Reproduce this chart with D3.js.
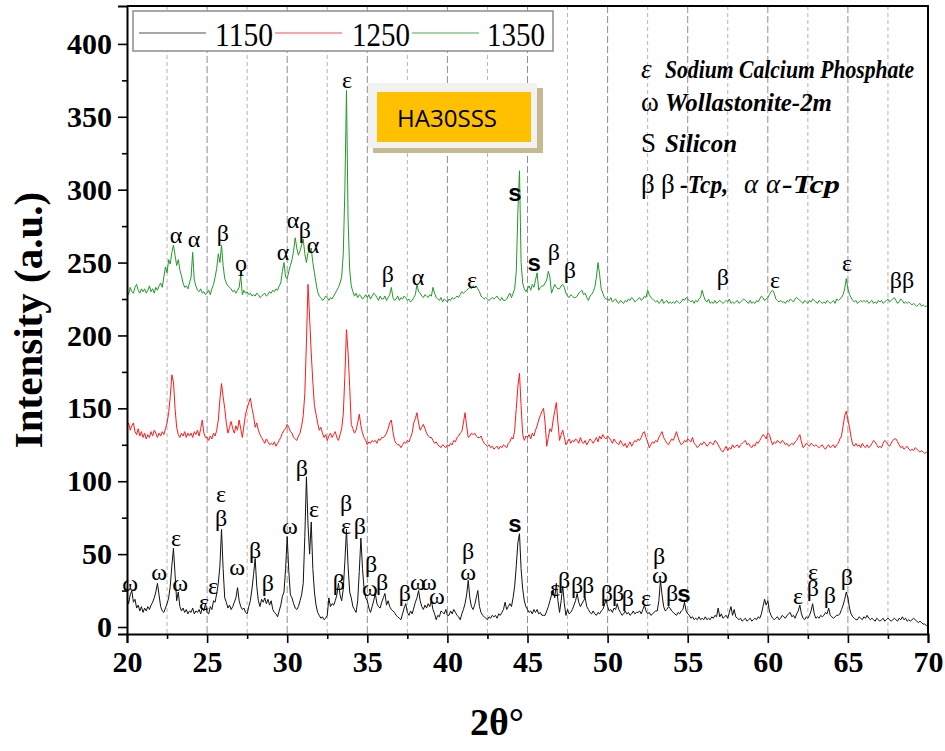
<!DOCTYPE html>
<html>
<head>
<meta charset="utf-8">
<script src="https://cdn.jsdelivr.net/npm/d3@7"></script>
<style>
  body { margin: 0; background: #fff; }
  svg { display: block; }
</style>
</head>
<body>
<svg id="chart" width="945" height="751"></svg>
<script>
// 2θ scan, 20°–70° at 0.1° step
const twoTheta = d3.range(501).map(i => +(20 + i * 0.1).toFixed(1));

// intensities, one row per degree
const i1150 = [
  20,16,22,25,17,19,13,15,11,14,
  10,13,11,14,12,15,17,20,24,30,
  22,14,11,10,13,16,20,28,42,54,
  36,18,24,14,11,13,10,12,9,11,
  10,13,9,11,10,12,9,13,11,16,
  10,9,14,12,18,17,23,30,42,67,
  40,20,17,13,15,12,14,17,20,27,
  18,14,12,13,10,9,14,18,26,36,
  47,28,18,14,19,17,20,16,19,15,
  18,12,10,9,7,11,15,21,24,40,
  62,38,22,20,16,13,12,14,18,22,
  30,62,103,70,50,72,40,24,15,10,
  8,6,7,5,6,8,20,14,16,15,
  18,22,30,22,18,26,45,67,42,24,
  20,14,12,10,18,38,61,40,26,20,
  18,13,10,14,18,23,16,14,13,17,
  20,23,15,18,14,12,11,10,8,7,
  6,5,9,13,16,10,8,11,9,13,
  17,20,25,18,14,12,15,13,16,14,
  18,12,9,5,8,7,11,10,9,12,
  8,8,11,9,12,10,8,7,5,9,
  12,16,22,32,20,14,12,15,20,25,
  14,10,8,7,6,5,7,6,8,7,
  8,6,9,8,10,12,17,12,14,16,
  14,20,28,42,58,64,40,26,18,14,
  12,10,11,9,12,10,12,9,10,8,
  8,8,11,14,18,22,25,20,30,18,
  10,18,28,16,8,12,9,10,12,15,
  18,23,17,14,16,18,20,14,12,10,
  9,11,9,8,10,9,11,12,15,19,
  14,11,12,10,13,12,16,12,10,8,
  9,11,9,10,8,9,11,9,10,10,
  11,9,12,15,11,9,10,8,9,10,
  11,11,18,32,22,14,11,12,14,13,
  11,10,9,8,10,9,11,12,17,11,
  9,8,6,7,5,6,5,7,5,6,
  5,7,5,6,5,7,6,8,7,13,
  7,9,6,7,8,6,10,14,8,12,
  7,6,5,6,4,5,6,4,5,6,
  4,5,6,5,7,6,9,14,19,15,
  18,11,8,6,5,6,7,5,6,8,
  7,6,8,9,10,7,8,6,9,11,
  15,9,6,5,7,6,8,11,16,9,
  6,7,6,8,7,8,10,9,13,8,
  7,6,7,8,8,9,12,15,19,24,
  20,13,9,7,6,5,5,7,6,5,
  7,6,8,6,5,6,5,4,6,5,
  4,5,6,4,5,6,5,4,5,6,
  5,4,6,5,7,5,6,4,5,4,
  5,6,5,4,3,4,3,2,2,1,
  1
];

const i1250 = [
  137,140,135,138,140,134,132,136,131,134,
  130,133,129,132,130,134,131,135,133,130,
  133,131,134,132,136,140,147,158,173,168,
  150,137,132,130,133,131,134,130,133,131,
  133,130,134,132,135,131,136,142,133,130,
  130,128,131,129,133,131,135,142,156,167,
  158,150,140,133,137,141,136,133,138,135,
  142,136,130,138,146,150,154,157,150,145,
  137,140,135,132,130,128,126,129,127,125,
  126,125,127,124,126,128,130,133,135,136,
  139,137,134,133,130,129,128,131,133,138,
  145,160,195,235,212,188,168,152,146,140,
  135,137,133,130,132,128,131,133,130,132,
  134,130,128,132,136,146,172,204,188,165,
  139,136,133,135,140,146,138,133,130,128,
  125,127,126,128,127,128,126,129,128,130,
  130,131,133,136,140,142,134,128,126,125,
  125,123,125,127,126,128,127,130,133,140,
  143,147,140,135,137,139,136,133,131,130,
  130,128,126,127,125,124,123,125,124,123,
  125,124,126,125,128,127,130,131,133,134,
  140,147,138,130,131,133,132,133,131,130,
  130,131,128,126,125,124,125,123,124,122,
  123,124,122,124,123,125,124,123,126,127,
  130,129,135,150,165,174,152,132,128,131,
  130,132,129,133,131,135,138,142,145,148,
  150,140,124,130,136,134,142,148,154,140,
  128,132,135,130,125,127,129,126,128,127,
  129,128,126,130,127,126,128,125,127,129,
  128,126,128,130,127,131,129,132,130,129,
  131,130,128,126,129,127,126,125,128,126,
  124,126,123,125,127,124,126,128,127,129,
  128,130,133,134,130,127,123,125,127,126,
  128,127,130,132,134,130,128,126,125,127,
  129,128,131,134,130,127,125,126,128,127,
  129,128,127,130,126,125,123,124,126,125,
  127,126,124,125,127,126,125,128,127,125,
  123,121,120,122,124,121,123,122,125,123,
  124,125,123,125,126,127,128,125,126,124,
  123,125,124,127,126,128,130,132,131,129,
  133,132,128,125,127,126,128,127,126,128,
  127,125,126,124,125,126,125,127,128,130,
  132,127,123,124,126,125,124,126,125,124,
  125,124,123,124,125,123,122,124,125,123,
  124,125,123,125,126,129,131,138,145,148,
  142,137,130,125,124,126,124,125,123,126,
  124,123,125,123,124,126,128,127,125,123,
  124,123,126,128,127,125,124,126,128,129,
  129,127,125,123,124,122,123,124,122,121,
  122,121,123,122,121,120,121,120,119,120,
  120
];

const i1350 = [
  231,228,233,230,229,233,235,231,229,232,
  230,232,229,231,234,230,232,229,233,231,
  234,236,233,240,247,243,252,249,257,262,
  255,248,252,245,241,236,233,234,232,236,
  240,257,238,234,231,230,232,229,230,228,
  229,231,228,232,235,240,246,256,250,262,
  248,239,236,234,233,232,230,231,229,231,
  233,241,228,231,229,230,228,229,227,228,
  227,229,228,226,227,228,229,227,228,230,
  229,231,230,232,231,234,236,244,250,240,
  239,244,248,252,258,267,260,255,258,262,
  266,256,250,257,258,260,250,243,236,230,
  227,226,224,225,227,226,224,226,225,227,
  229,231,233,236,240,256,300,368,280,245,
  234,230,227,229,226,228,227,225,226,228,
  226,228,225,227,229,228,226,224,227,225,
  225,227,224,226,228,233,226,224,225,227,
  224,226,225,227,226,224,225,223,224,226,
  228,235,230,229,227,226,228,227,226,228,
  227,233,229,226,225,224,226,223,225,224,
  223,225,224,226,225,226,227,226,228,230,
  229,230,231,232,233,232,234,233,234,232,
  230,227,226,225,226,225,224,225,226,225,
  226,227,225,224,226,224,224,225,227,229,
  226,229,232,244,285,313,250,236,232,230,
  232,234,231,235,233,238,243,231,233,234,
  234,236,238,244,240,229,232,235,233,232,
  232,234,235,233,229,227,226,228,227,226,
  226,227,229,230,231,228,229,226,224,227,
  228,230,233,240,250,242,232,229,226,225,
  225,224,226,223,224,225,223,222,224,223,
  222,224,223,225,224,226,225,223,224,225,
  226,224,225,227,226,231,228,226,225,224,
  223,224,222,223,225,222,223,224,222,223,
  222,223,222,224,223,222,223,225,224,226,
  225,224,223,224,222,224,223,225,226,231,
  227,224,223,225,222,223,222,224,222,223,
  224,223,222,223,224,223,225,222,223,222,
  223,224,222,223,224,225,224,223,222,224,
  222,223,222,224,223,225,227,226,224,225,
  226,228,230,231,229,225,224,223,224,223,
  223,222,224,223,225,224,223,225,226,225,
  224,223,222,224,223,222,224,223,225,224,
  223,222,224,223,222,223,222,224,223,222,
  223,224,222,225,224,225,226,228,232,239,
  232,228,226,224,223,224,222,223,224,223,
  224,223,224,222,223,224,222,223,222,224,
  223,224,222,223,224,225,223,224,225,226,
  224,222,223,225,224,222,223,222,223,222,
  221,222,221,220,221,222,220,221,220,220,
  220
];

const seriesNames = ['1150', '1250', '1350'];
const seriesColors = ['#111111', '#ff1a1a', '#22992a'];
const legendColors = ['#8a8a8a', '#f48a8a', '#86c986'];

// phase markers: [2θ, intensity, glyph]
const peaks1150 = [
  [20.19, 30, 'ω'], [22.0, 38, 'ω'], [23.06, 61, 'ε'], [23.31, 30, 'ω'],
  [24.81, 17, 'ε'], [25.37, 28, 'ε'], [25.87, 91, 'ε'], [25.87, 75, 'β'],
  [26.87, 41, 'ω'], [27.99, 53, 'β'], [28.8, 30, 'β'], [30.17, 69, 'ω'],
  [30.92, 109, 'β'], [31.67, 81, 'ε'], [33.23, 31, 'β'], [33.67, 85, 'β'],
  [33.67, 69, 'ε'], [34.54, 69, 'β'], [35.23, 43, 'β'], [35.17, 27, 'ω'],
  [35.92, 31, 'β'], [37.35, 23, 'β'], [38.16, 31, 'ω'], [38.85, 31, 'ω'],
  [39.35, 21, 'ω'], [41.29, 52, 'β'], [41.29, 38, 'ω'], [46.72, 27, 'ε'],
  [47.28, 32, 'β'], [48.09, 29, 'β'], [48.78, 29, 'β'], [49.96, 23, 'β'],
  [50.65, 23, 'β'], [51.27, 20, 'β'], [52.4, 20, 'ε'], [53.21, 49, 'β'],
  [53.27, 36, 'ω'], [54.02, 23, 'β'], [61.89, 21, 'ε'], [62.82, 38, 'ε'],
  [62.82, 27, 'β'], [63.88, 22, 'β'], [64.94, 34, 'β']
];
const silicon1150 = [[44.22, 71], [54.77, 23]];

const peaks1350 = [
  [23.06, 269, 'α'], [24.18, 266, 'α'], [25.99, 270, 'β'], [27.12, 250, 'ϙ'],
  [29.74, 257, 'α'], [30.36, 279, 'α'], [31.11, 272, 'β'], [31.61, 262, 'α'],
  [33.73, 375, 'ε'], [36.29, 242, 'β'], [38.16, 240, 'α'], [41.54, 238, 'ε'],
  [46.65, 257, 'β'], [47.65, 245, 'β'], [57.2, 240, 'β'], [60.45, 238, 'ε'],
  [64.94, 250, 'ε'], [68.38, 238, 'ββ']
];
const silicon1350 = [[44.22, 298], [45.41, 250]];

const yTicks = [0, 50, 100, 150, 200, 250, 300, 350, 400];
const yMinor = [25, 75, 125, 175, 225, 275, 325, 375];
const xTicks = [20, 25, 30, 35, 40, 45, 50, 55, 60, 65, 70];
const xMinor = [22.5, 27.5, 32.5, 37.5, 42.5, 47.5, 52.5, 57.5, 62.5, 67.5];

const svg = d3.select('#chart');
const plotL = 127, plotR = 928, plotT = 6, plotB = 634;

const x = d3.scaleLinear().domain([20, 70]).range([plotL, plotR]);
const y = d3.scaleLinear().domain([-4.8, 426]).range([plotB, plotT]);

const serif = '"Liberation Serif", "Times New Roman", serif';

// dashed verticals
svg.append('g')
  .selectAll('line')
  .data(xMinor.concat(xTicks.slice(1, -1)))
  .join('line')
  .attr('x1', d => x(d)).attr('x2', d => x(d))
  .attr('y1', plotT).attr('y2', plotB)
  .attr('stroke', d => d % 5 === 0 ? '#8f8f8f' : '#b4b4b4')
  .attr('stroke-width', 1)
  .attr('stroke-dasharray', d => d % 5 === 0 ? '7,3' : '4,3');

// diffraction patterns
const line = d3.line()
  .x((d, i) => x(twoTheta[i]))
  .y(d => y(d));

[i1150, i1250, i1350].forEach((vals, k) => {
  svg.append('path')
    .datum(vals)
    .attr('fill', 'none')
    .attr('stroke', seriesColors[k])
    .attr('stroke-width', 1)
    .attr('stroke-linejoin', 'round')
    .attr('d', line);
});

// axes
const yAxis = svg.append('g')
  .attr('transform', `translate(${plotL},0)`)
  .call(d3.axisLeft(y).tickValues(yTicks).tickSize(9).tickPadding(6));
svg.append('g')
  .attr('transform', `translate(${plotL},0)`)
  .call(d3.axisLeft(y).tickValues(yMinor).tickSize(5).tickFormat(''))
  .call(g => g.select('.domain').remove());

const xAxis = svg.append('g')
  .attr('transform', `translate(0,${plotB})`)
  .call(d3.axisBottom(x).tickValues(xTicks).tickSize(9).tickPadding(8));
svg.append('g')
  .attr('transform', `translate(0,${plotB})`)
  .call(d3.axisBottom(x).tickValues(xMinor).tickSize(5).tickFormat(''))
  .call(g => g.select('.domain').remove());

svg.selectAll('.domain').attr('stroke', '#000').attr('stroke-width', 2);
svg.selectAll('.tick line').attr('stroke', '#000').attr('stroke-width', 1.6);

yAxis.selectAll('.tick text')
  .attr('font-family', serif).attr('font-weight', 'bold')
  .attr('font-size', 30).attr('fill', '#000');
xAxis.selectAll('.tick text')
  .attr('font-family', serif).attr('font-weight', 'bold')
  .attr('font-size', 30).attr('fill', '#000');

// top and right frame
svg.append('path')
  .attr('d', `M${plotL},${plotT}H${plotR}V${plotB}`)
  .attr('fill', 'none').attr('stroke', '#000').attr('stroke-width', 2);

// axis titles
svg.append('text')
  .attr('transform', `translate(42,${(plotT + plotB) / 2}) rotate(-90)`)
  .attr('text-anchor', 'middle')
  .attr('font-family', serif).attr('font-weight', 'bold')
  .attr('font-size', 41)
  .text('Intensity (a.u.)');

svg.append('text')
  .attr('x', 497).attr('y', 735)
  .attr('text-anchor', 'middle')
  .attr('font-family', serif).attr('font-weight', 'bold')
  .attr('font-size', 38)
  .text('2θ°');

// legend
const legend = svg.append('g');
legend.append('rect')
  .attr('x', 133).attr('y', 11).attr('width', 420).attr('height', 40)
  .attr('fill', '#fff').attr('stroke', '#8c8c8c').attr('stroke-width', 1.5);
const legendX = [139, 275, 412];
const textX = [215, 352, 487];
seriesNames.forEach((name, k) => {
  legend.append('line')
    .attr('x1', legendX[k]).attr('x2', legendX[k] + 67)
    .attr('y1', 33).attr('y2', 33)
    .attr('stroke', legendColors[k]).attr('stroke-width', 1.5);
  legend.append('text')
    .attr('x', textX[k]).attr('y', 46)
    .attr('font-family', serif).attr('font-size', 34)
    .attr('textLength', 58).attr('lengthAdjust', 'spacingAndGlyphs')
    .text(name);
});

// phase markers
function markers(list) {
  svg.append('g')
    .selectAll('text')
    .data(list)
    .join('text')
    .attr('x', d => x(d[0])).attr('y', d => y(d[1]))
    .attr('text-anchor', 'middle')
    .attr('dominant-baseline', 'central')
    .attr('font-family', serif).attr('font-size', 24)
    .text(d => d[2]);
}
function siliconMarks(list) {
  svg.append('g')
    .selectAll('text')
    .data(list)
    .join('text')
    .attr('x', d => x(d[0])).attr('y', d => y(d[1]))
    .attr('text-anchor', 'middle')
    .attr('dominant-baseline', 'central')
    .attr('font-family', '"Liberation Sans", Arial, sans-serif')
    .attr('font-weight', 'bold').attr('font-size', 24)
    .text('s');
}
markers(peaks1150);
markers(peaks1350);
siliconMarks(silicon1150);
siliconMarks(silicon1350);

// phase key
const key = svg.append('g').attr('font-family', serif).attr('font-size', 26);
const keyRows = [
  { y: 78, sym: 'ε', symItalic: true, label: 'Sodium Calcium Phosphate', lw: 249 },
  { y: 111, sym: 'ω', label: 'Wollastonite-2m', lw: 167 },
  { y: 152, sym: 'S', label: 'Silicon', lw: 72 }
];
keyRows.forEach(r => {
  key.append('text')
    .attr('x', 641).attr('y', r.y)
    .attr('font-size', 27)
    .attr('font-style', r.symItalic ? 'italic' : 'normal')
    .text(r.sym);
  key.append('text')
    .attr('x', 665).attr('y', r.y)
    .attr('font-weight', 'bold').attr('font-style', 'italic')
    .attr('textLength', r.lw).attr('lengthAdjust', 'spacingAndGlyphs')
    .text(r.label);
});
key.append('text').attr('x', 641).attr('y', 193).attr('font-size', 27).text('β');
key.append('text').attr('x', 661).attr('y', 193).attr('font-size', 27).text('β');
key.append('text').attr('x', 680).attr('y', 193)
  .attr('font-weight', 'bold').attr('font-style', 'italic')
  .attr('textLength', 48).attr('lengthAdjust', 'spacingAndGlyphs')
  .text('-Tcp,');
key.append('text').attr('x', 744).attr('y', 193)
  .attr('font-size', 27).attr('font-style', 'italic').text('α');
key.append('text').attr('x', 766).attr('y', 193)
  .attr('font-size', 27).attr('font-style', 'italic').text('α');
key.append('text').attr('x', 782).attr('y', 193)
  .attr('font-weight', 'bold').attr('font-style', 'italic')
  .attr('textLength', 58).attr('lengthAdjust', 'spacingAndGlyphs')
  .text('-Tcp');

// sample tag
const tag = svg.append('g');
tag.append('rect')
  .attr('x', 373).attr('y', 88).attr('width', 170).attr('height', 65)
  .attr('fill', '#c7b98f');
tag.append('rect')
  .attr('x', 368).attr('y', 83).attr('width', 169).attr('height', 65)
  .attr('fill', '#f2f2f2');
tag.append('rect')
  .attr('x', 377).attr('y', 92).attr('width', 154).attr('height', 50)
  .attr('fill', '#ffc000');
tag.append('text')
  .attr('x', 397).attr('y', 127)
  .attr('font-family', '"Open Sans", "Liberation Sans", sans-serif')
  .attr('font-size', 24)
  .attr('textLength', 100).attr('lengthAdjust', 'spacingAndGlyphs')
  .text('HA30SSS');
</script>
</body>
</html>
